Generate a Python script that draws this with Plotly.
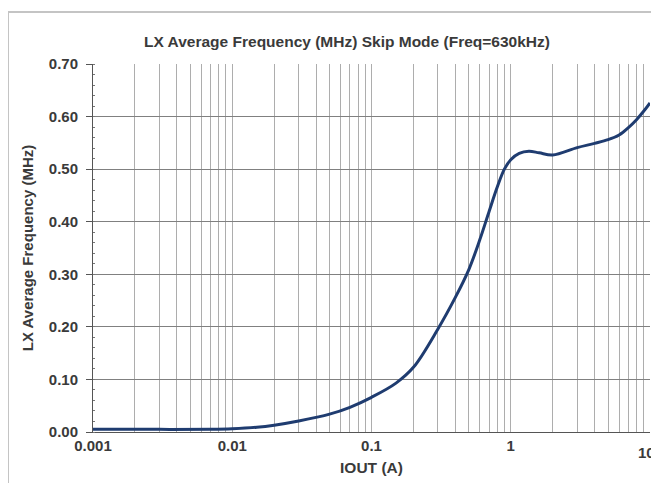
import plotly.graph_objects as go

# IOUT (A) and LX average frequency (MHz)
iout = [0.001, 0.003, 0.007, 0.01, 0.015, 0.02, 0.03, 0.05, 0.07, 0.1,
        0.15, 0.2, 0.3, 0.4, 0.5, 0.6, 0.7, 0.8, 0.9, 1.0,
        1.15, 1.35, 1.6, 2.0, 3.0, 4.0, 5.0, 6.0, 7.0, 8.0, 9.0, 10.0]
freq = [0.005, 0.005, 0.005, 0.006, 0.009, 0.013, 0.021, 0.034, 0.047, 0.066,
        0.093, 0.123, 0.196, 0.256, 0.309, 0.366, 0.420, 0.466, 0.500, 0.518,
        0.530, 0.534, 0.531, 0.527, 0.541, 0.549, 0.556, 0.565, 0.579, 0.594, 0.610, 0.626]

x_ticks = [0.001, 0.01, 0.1, 1, 10]
y_ticks = [0.0, 0.1, 0.2, 0.3, 0.4, 0.5, 0.6, 0.7]

# grid lines at every 1..9 of each decade, labels only on decades
grid_vals = [m * 10 ** e for e in range(-3, 1) for m in range(1, 10)] + [10]
grid_text = [("%g" % v) if v in x_ticks[:-1] else "" for v in grid_vals]

font = "Liberation Sans, Arial, sans-serif"
txt = "#3a3a3a"

fig = go.Figure()
fig.add_trace(go.Scatter(x=iout, y=freq, mode="lines",
                         line=dict(color="#1f3c70", width=3, shape="spline", smoothing=1.0),
                         showlegend=False))

# page body has an 8px margin, so the figure is a bit smaller than the window
fig.update_layout(
    width=651, height=475,
    margin=dict(l=85, r=9, t=56, b=51),
    paper_bgcolor="white", plot_bgcolor="white",
    font=dict(family=font, size=15, color=txt),
    title=dict(text="<b>LX Average Frequency (MHz) Skip Mode (Freq=630kHz)</b>",
               x=0.456, xref="paper", xanchor="center", y=1 - 34 / 475, yanchor="middle",
               font=dict(size=15.5, color=txt)),
)

fig.update_xaxes(
    type="log", range=[-3, 1], automargin=False,
    tickvals=grid_vals, ticktext=["<b>%s</b>" % t if t else "" for t in grid_text],
    showgrid=True, gridcolor="#adadad", gridwidth=1,
    showline=True, linecolor="#555555", linewidth=1,
    ticks="", zeroline=False,
    title=dict(text="<b>IOUT (A)</b>", standoff=9, font=dict(size=15.5, color=txt)),
    tickfont=dict(size=15, color=txt),
)
fig.update_yaxes(
    range=[0, 0.7], tickvals=y_ticks, automargin=False,
    ticktext=["<b>%.2f</b>" % v for v in y_ticks],
    showgrid=True, gridcolor="#808080", gridwidth=1,
    showline=True, linecolor="#555555", linewidth=1,
    ticks="outside", ticklen=6, tickcolor="#555555", ticklabelstandoff=5,
    minor=dict(dtick=0.02, ticks="inside", ticklen=2, tickcolor="#777777", showgrid=False),
    zeroline=False,
    title=dict(text="<b>LX Average Frequency (MHz)</b>", standoff=11, font=dict(size=15, color=txt)),
    tickfont=dict(size=15, color=txt),
)

# last decade label sits at the right edge, so place it as an annotation
fig.add_annotation(x=1, y=0, xref="paper", yref="paper", text="<b>%g</b>" % x_ticks[-1],
                   showarrow=False, xanchor="right", yanchor="middle", xshift=7, yshift=-20,
                   font=dict(size=15, color=txt))

# light outer frame around the chart
fig.add_shape(type="rect", xref="paper", yref="paper",
              x0=-0.1526, y0=-0.3, x1=1.05, y1=1.141,
              line=dict(color="#c4c4c4", width=2), fillcolor="rgba(0,0,0,0)", layer="below")

fig.write_html("out.html")
